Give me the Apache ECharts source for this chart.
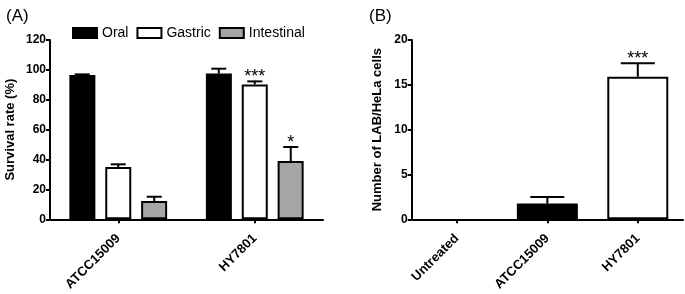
<!DOCTYPE html>
<html>
<head>
<meta charset="utf-8">
<script src="https://cdn.jsdelivr.net/npm/echarts@6/dist/echarts.min.js"></script>
<style>
  html, body { margin: 0; padding: 0; background: #fff; }
  #chart { width: 685px; height: 294px; }
</style>
</head>
<body>
<div id="chart"></div>
<script>
// panel A: survival rate
const strainsA = ['ATCC15009', 'HY7801'];
const oral = [96.5, 97.5];
const oralErr = [0.5, 3.3];
const gastric = [35, 90.3];
const gastricErr = [1.8, 2];
const intestinal = [12.3, 39];
const intestinalErr = [2.8, 9.4];
const gastricSig = ['', '***'];
const intestinalSig = ['', '*'];
const ticksA = [0, 20, 40, 60, 80, 100, 120];

// panel B: adhesion
const groupsB = ['Untreated', 'ATCC15009', 'HY7801'];
const cellsB = [null, 1.75, 15.9];
const cellsErr = [0, 0.75, 1.5];
const cellsSig = ['', '', '***'];
const ticksB = [0, 5, 10, 15, 20];

const FONT = 'Liberation Sans, Arial, sans-serif';
const GREY = '#a6a6a6';

let myChart = echarts.init(document.getElementById('chart'));

function axisStyle () {
  return {
    axisLine: { lineStyle: { color: '#000', width: 2 } },
    axisTick: { show: true, length: 4, lineStyle: { color: '#000', width: 2 } },
    splitLine: { show: false }
  };
}

// category labels, rotated
const catLabel = {
  rotate: 45,
  color: '#000', fontFamily: FONT, fontSize: 13, fontWeight: 'bold', margin: 17
};

// error bar (upper half only) + significance stars
function errSeries (gridIdx, vals, errs, sigs, offset, capW) {
  return {
    type: 'custom',
    xAxisIndex: gridIdx,
    yAxisIndex: gridIdx,
    silent: true,
    z: 5,
    data: vals.map((v, i) => [i, v == null ? 0 : v, errs[i]]),
    renderItem: function (params, api) {
      const i = api.value(0);
      const v = api.value(1);
      const e = api.value(2);
      const s = sigs[i];
      const base = api.coord([i, v]);
      const top = api.coord([i, v + e]);
      const cx = base[0] + offset;
      const children = [];
      if (e > 0) {
        children.push({
          type: 'line',
          shape: { x1: cx, y1: base[1], x2: cx, y2: top[1] },
          style: { stroke: '#000', lineWidth: 2 }
        });
        children.push({
          type: 'line',
          shape: { x1: cx - capW / 2, y1: top[1], x2: cx + capW / 2, y2: top[1] },
          style: { stroke: '#000', lineWidth: 2 }
        });
      }
      if (s) {
        children.push({
          type: 'text',
          style: {
            text: s, x: cx, y: top[1] + 5,
            textAlign: 'center', textVerticalAlign: 'bottom',
            font: '18px ' + FONT, fill: '#000'
          }
        });
      }
      return { type: 'group', children: children };
    }
  };
}

const barBorder = { borderColor: '#000', borderWidth: 2 };

const option = {
  animation: false,
  backgroundColor: '#fff',
  title: [
    { text: '(A)', left: 1, top: 3, textStyle: { fontFamily: FONT, fontSize: 17, fontWeight: 'normal', color: '#000' } },
    { text: '(B)', left: 364, top: 3, textStyle: { fontFamily: FONT, fontSize: 17, fontWeight: 'normal', color: '#000' } }
  ],
  legend: {
    left: 67,
    top: 21,
    itemWidth: 24,
    itemHeight: 10,
    itemGap: 8,
    icon: 'rect',
    textStyle: { fontFamily: FONT, fontSize: 14, color: '#000' },
    data: ['Oral', 'Gastric', 'Intestinal']
  },
  grid: [
    { left: 50, top: 40, width: 273, height: 179.3 },
    { left: 411.7, top: 40, width: 271.3, height: 179.3 }
  ],
  xAxis: [
    Object.assign(axisStyle(), {
      type: 'category', gridIndex: 0, data: strainsA,
      axisTick: { show: true, alignWithLabel: true, length: 4, lineStyle: { color: '#000', width: 2 } },
      axisLabel: catLabel
    }),
    Object.assign(axisStyle(), {
      type: 'category', gridIndex: 1, data: groupsB,
      axisTick: { show: true, alignWithLabel: true, length: 4, lineStyle: { color: '#000', width: 2 } },
      axisLabel: catLabel
    })
  ],
  yAxis: [
    Object.assign(axisStyle(), {
      type: 'value', gridIndex: 0, min: ticksA[0], max: ticksA[ticksA.length - 1], interval: 20,
      name: 'Survival rate (%)', nameLocation: 'middle', nameRotate: 90, nameGap: 33,
      nameTextStyle: { fontFamily: FONT, fontSize: 13, fontWeight: 'bold', color: '#000' },
      axisLine: { show: true, lineStyle: { color: '#000', width: 2 } },
      axisLabel: { color: '#000', fontFamily: FONT, fontSize: 12, fontWeight: 'bold', margin: 4 }
    }),
    Object.assign(axisStyle(), {
      type: 'value', gridIndex: 1, min: ticksB[0], max: ticksB[ticksB.length - 1], interval: 5,
      name: 'Number of LAB/HeLa cells', nameLocation: 'middle', nameRotate: 90, nameGap: 28,
      nameTextStyle: { fontFamily: FONT, fontSize: 13, fontWeight: 'bold', color: '#000' },
      axisLine: { show: true, lineStyle: { color: '#000', width: 2 } },
      axisLabel: { color: '#000', fontFamily: FONT, fontSize: 12, fontWeight: 'bold', margin: 4 }
    })
  ],
  series: [
    {
      name: 'Oral', type: 'bar', xAxisIndex: 0, yAxisIndex: 0,
      data: oral, barWidth: 26, barGap: '38%',
      itemStyle: Object.assign({ color: '#000' }, barBorder)
    },
    {
      name: 'Gastric', type: 'bar', xAxisIndex: 0, yAxisIndex: 0,
      data: gastric, barWidth: 26, barGap: '38%',
      itemStyle: Object.assign({ color: '#fff' }, barBorder)
    },
    {
      name: 'Intestinal', type: 'bar', xAxisIndex: 0, yAxisIndex: 0,
      data: intestinal, barWidth: 26, barGap: '38%',
      itemStyle: Object.assign({ color: GREY }, barBorder)
    },
    {
      name: 'cells', type: 'bar', xAxisIndex: 1, yAxisIndex: 1,
      barWidth: 61,
      data: cellsB.map((v, i) => ({
        value: v,
        itemStyle: Object.assign({ color: i === 2 ? '#fff' : '#000' }, barBorder)
      }))
    },
    errSeries(0, oral, oralErr, ['', ''], -36, 15),
    errSeries(0, gastric, gastricErr, gastricSig, 0, 15),
    errSeries(0, intestinal, intestinalErr, intestinalSig, 36, 15),
    errSeries(1, cellsB, cellsErr, cellsSig, 0, 34)
  ]
};

myChart.setOption(option, true);

window.addEventListener('resize', () => {
  myChart.resize();
});
</script>
</body>
</html>
